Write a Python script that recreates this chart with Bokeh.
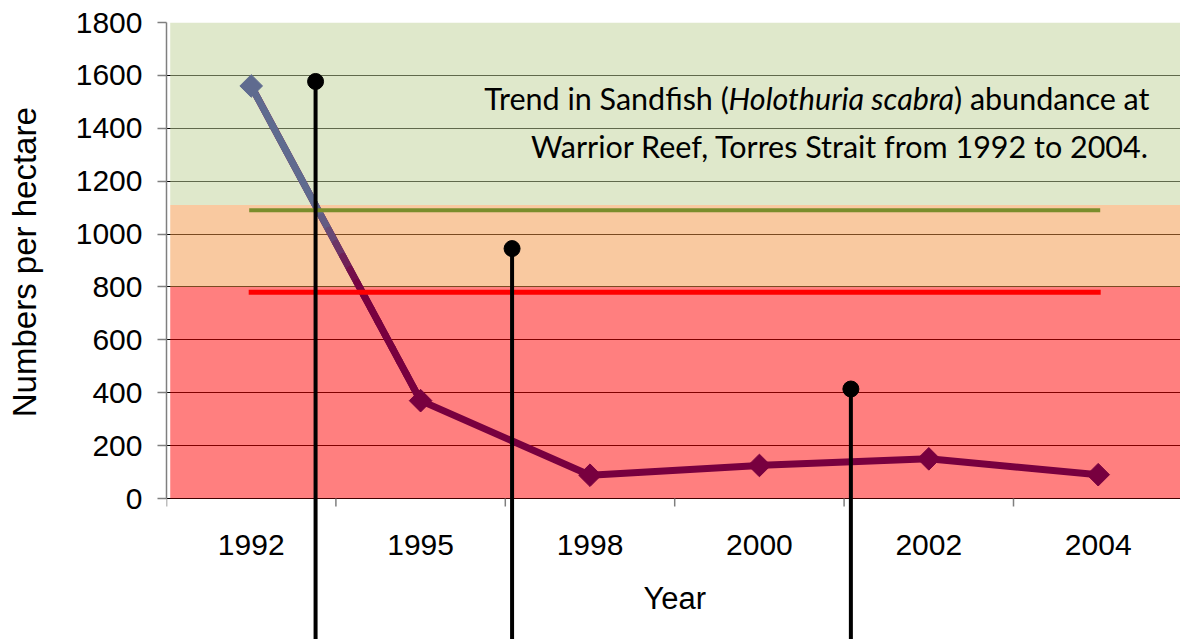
import glob
import numpy as np
from bokeh.plotting import figure
from bokeh.models import Range1d, FixedTicker
from bokeh.core.properties import value
from bokeh.embed import file_html
from bokeh.resources import INLINE

# ---------------- data ----------------
years = ["1992", "1995", "1998", "2000", "2002", "2004"]
abundance = [1560, 370, 88, 125, 150, 90]          # numbers per hectare
y_ticks = [0, 200, 400, 600, 800, 1000, 1200, 1400, 1600, 1800]

band_bottoms = [0, 800, 1110]
band_tops = [800, 1110, 1800]

green_level = [1090, 1090]
red_level = [780, 780]

pin_x = [0.88, 2.04, 4.04]          # in category units (0 = left edge of 1992)
pin_top = [1577, 945, 414]

title_line1 = ["Trend in Sandfish (", "Holothuria scabra", ") abundance at"]
title_line2 = "Warrior Reef, Torres Strait from 1992 to 2004."
x_title = "Year"
y_title = "Numbers per hectare"

# ---------------- layout / styling ----------------
band_colors = ["#FF0000", "#F39341", "#BFD197"]
MAROON = "#78003F"
BLUE = "#5F6B8F"
AXIS_GRAY = "#7F7F7F"
FONT = "Liberation Sans"

W, H = 1180, 639
LEFT, TOP = 166, 22
ZERO_PX = 498                 # page y of value 0
PLOT_PX = ZERO_PX - TOP       # pixel height of 0..1800
U = 1800 / PLOT_PX            # data units per pixel (vertical)
CAT_PX = 169.4                # pixel width of one category
frame_w = W - LEFT
frame_h = H - TOP
y_bottom = -(frame_h - PLOT_PX) * U   # frame runs down to the picture edge

def py(page_y):               # page pixel row -> data y
    return (ZERO_PX - page_y) * U

def px(page_x):               # page pixel column -> data x
    return (page_x - LEFT) / CAT_PX

centers = np.arange(len(years)) + 0.5

p = figure(width=W, height=H, output_backend="svg", toolbar_location=None,
           x_range=Range1d(0, frame_w / CAT_PX), y_range=Range1d(y_bottom, 1800),
           min_border_left=LEFT, min_border_right=0, min_border_top=TOP,
           min_border_bottom=0)
p.outline_line_color = None
p.background_fill_color = "white"
p.border_fill_color = "white"
p.xaxis.visible = False

# grid: black lines under semi-transparent bands
p.xgrid.visible = False
p.ygrid.ticker = FixedTicker(ticks=y_ticks)
p.ygrid.grid_line_color = "black"
p.ygrid.grid_line_width = 1

# bands
p.quad(left=0.022, right=6.2, bottom=band_bottoms, top=band_tops,
       fill_color=band_colors, fill_alpha=0.5, line_color=None)

# category boundary ticks under the value 0
bounds_x = list(range(len(years) + 1))
p.segment(x0=bounds_x, y0=[0] * len(bounds_x), x1=bounds_x, y1=[-8 * U] * len(bounds_x),
          line_color=AXIS_GRAY, line_width=1.5)

# category labels and x title
p.text(x=centers, y=[py(544)] * len(years), text=years,
       text_font=value(FONT), text_font_size=value("30px"), text_color="black",
       text_align="center", text_baseline="middle")
p.text(x=[len(years) / 2], y=[py(598)], text=[x_title],
       text_font=value(FONT), text_font_size=value("31px"), text_color="black",
       text_align="center", text_baseline="middle")

# data line
p.line(centers, abundance, line_color=MAROON, line_width=7, line_join="round")

# colour fade on first segment (style only)
def _hex(c):
    return np.array([int(c[i:i + 2], 16) for i in (1, 3, 5)], float)

c_blue, c_maroon = _hex(BLUE), _hex(MAROON)
n_steps = 24
t = np.linspace(0, 1, n_steps + 1)
x0s = centers[0] + (centers[1] - centers[0]) * t[:-1]
x1s = centers[0] + (centers[1] - centers[0]) * t[1:]
y0s = abundance[0] + (abundance[1] - abundance[0]) * t[:-1]
y1s = abundance[0] + (abundance[1] - abundance[0]) * t[1:]
tm = (t[:-1] + t[1:]) / 2
w = np.clip((tm - 0.36) / (0.68 - 0.36), 0, 1)
w = w * w * (3 - 2 * w)
seg_colors = ["#%02x%02x%02x" % tuple(int(round(v)) for v in (c_blue * (1 - k) + c_maroon * k)) for k in w]
p.segment(x0=x0s, y0=y0s, x1=x1s, y1=y1s, line_color=seg_colors, line_width=7, line_cap="round")

# threshold lines (drawn over the data line)
p.line([centers[0], centers[-1]], green_level, line_color="#7A8D2C", line_width=4, line_cap="square")
p.line([centers[0], centers[-1]], red_level, line_color="#FF0000", line_width=5, line_cap="square")

# markers
marker_colors = [BLUE] + [MAROON] * (len(years) - 1)
p.scatter(centers, abundance, marker="square", angle=np.pi / 4, size=16,
          fill_color=marker_colors, line_color=marker_colors)

# pins: long vertical lines running off the bottom of the picture, dot on top
p.segment(x0=pin_x, y0=pin_top, x1=pin_x, y1=[y_bottom] * len(pin_x),
          line_color="black", line_width=4)
p.scatter(pin_x, pin_top, marker="circle", size=16, fill_color="black", line_color="black")

# ---------------- annotation text ----------------
def _find(names):
    for n in names:
        for root in ("/usr/share/fonts", "/usr/local/share/fonts"):
            hits = glob.glob(root + "/**/" + n, recursive=True)
            if hits:
                return hits[0]
    return None

def _measure(txt, path, size):
    if path is None:
        return None
    try:
        from PIL import ImageFont
        return ImageFont.truetype(path, size).getlength(txt)
    except Exception:
        pass
    try:
        from fontTools.ttLib import TTFont
        f = TTFont(path)
        cmap = f.getBestCmap()
        hm = f["hmtx"]
        upm = f["head"].unitsPerEm
        return sum(hm[cmap.get(ord(ch), ".notdef")][0] for ch in txt) * size / upm
    except Exception:
        return None

reg = _find(["Lato-Regular.ttf"])
ita = _find(["Lato-Italic.ttf"])
ann_font = "Lato"
base = 28.0
wr1 = _measure(title_line1[0], reg, base)
wi = _measure(title_line1[1], ita, base)
wr3 = _measure(title_line1[2], reg, base)
if None in (wr1, wi, wr3):
    ann_font = "Liberation Sans"
    aw = {" ": 278, "T": 611, "r": 333, "e": 556, "n": 556, "d": 556, "i": 222, "S": 667,
          "a": 556, "f": 278, "s": 500, "h": 556, "(": 333, ")": 333, "H": 722, "o": 556,
          "l": 222, "t": 278, "u": 556, "c": 500, "b": 556}
    m = lambda s, sz: sum(aw.get(ch, 556) for ch in s) * sz / 1000
    wr1, wi, wr3 = m(title_line1[0], base), m(title_line1[1], base), m(title_line1[2], base)
target = 665.0
ann_size = max(20.0, min(32.0, base * target / (wr1 + wi + wr3)))
k = ann_size / base
wr1, wi, wr3 = wr1 * k, wi * k, wr3 * k

TX = px(1149)                       # right edge of annotation
fs = "%.1fpx" % ann_size
p.text(x=[TX, TX, TX], y=[py(97)] * 3, text=title_line1,
       x_offset=[-(wr3 + wi), -wr3, 0],
       text_font=value(ann_font), text_font_size=value(fs),
       text_font_style=["normal", "italic", "normal"],
       text_align="right", text_baseline="middle", text_color="black")
p.text(x=[TX], y=[py(145)], text=[title_line2],
       text_font=value(ann_font), text_font_size=value(fs),
       text_align="right", text_baseline="middle", text_color="black")

# ---------------- y axis ----------------
ya = p.yaxis[0]
ya.bounds = (0, 1800)
ya.ticker = FixedTicker(ticks=y_ticks)
ya.axis_line_color = AXIS_GRAY
ya.axis_line_width = 1.5
ya.major_tick_line_color = AXIS_GRAY
ya.major_tick_line_width = 1.5
ya.major_tick_out = 9
ya.major_tick_in = 0
ya.minor_tick_line_color = None
ya.major_label_text_font = FONT
ya.major_label_text_font_size = "30px"
ya.major_label_text_color = "black"
ya.major_label_standoff = 15
# the axis title is centred on the whole frame (which runs to the bottom edge);
# leading no-break spaces lift the visible words to the centre of 0..1800
ya.axis_label = "\u00a0" * 15 + y_title
ya.axis_label_text_font = FONT
ya.axis_label_text_font_size = "33px"
ya.axis_label_text_font_style = "normal"
ya.axis_label_text_color = "black"
ya.axis_label_standoff = 30

open("out.html", "w").write(file_html(p, INLINE))
